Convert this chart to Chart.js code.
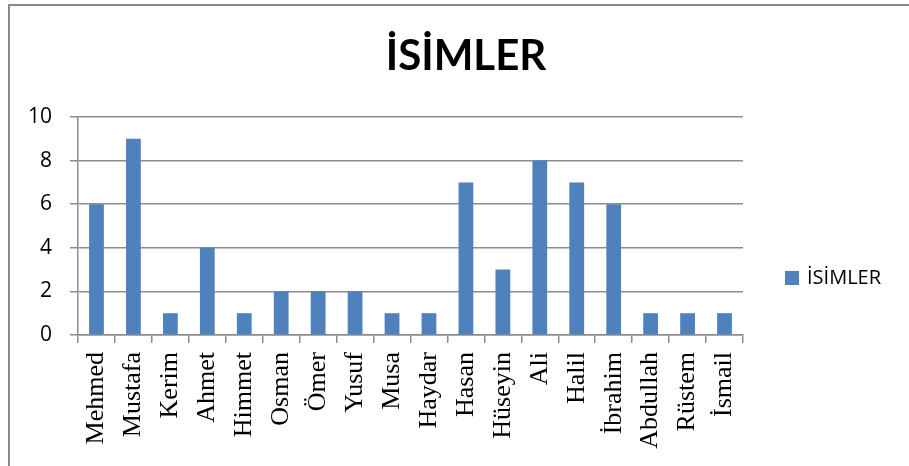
<!DOCTYPE html>
<html>
<head>
<meta charset="utf-8">
<script src="https://cdn.jsdelivr.net/npm/chart.js@4"></script>
<style>
  html, body { margin: 0; padding: 0; overflow: hidden; background: #fff; }
  #frame { position: absolute; left: 8px; top: 4px; width: 1000px; height: 1000px; border: 2px solid #8a8a8a; }
  #wrap { position: absolute; left: 0; top: 0; width: 909px; height: 466px; }
</style>
</head>
<body>
<div id="frame"></div>
<div id="wrap"><canvas id="chart" width="909" height="466"></canvas></div>
<script>
// Veriler
const names = ['Mehmed', 'Mustafa', 'Kerim', 'Ahmet', 'Himmet', 'Osman', 'Ömer', 'Yusuf', 'Musa',
    'Haydar', 'Hasan', 'Hüseyin', 'Ali', 'Halil', 'İbrahim', 'Abdullah', 'Rüstem', 'İsmail'];
const counts = [6, 9, 1, 4, 1, 2, 2, 2, 1, 1, 7, 3, 8, 7, 6, 1, 1, 1];
const seriesName = 'İSİMLER';
const titleText = 'İSİMLER';

const barColor = '#4F81BD';
const gridColor = '#8c8c8c';

// Başlık ve sağdaki gösterge (Excel tarzı, tüm grafiğe göre ortalı)
const excelDecor = {
    id: 'excelDecor',
    afterDraw(chart) {
        const ctx = chart.ctx;
        const ds = chart.data.datasets[0];
        ctx.save();
        // başlık
        ctx.fillStyle = '#000';
        ctx.font = 'bold 42px Lato';
        ctx.textAlign = 'center';
        ctx.textBaseline = 'middle';
        ctx.fillText(titleText, 466, 56);
        // gösterge
        ctx.fillStyle = ds.backgroundColor;
        ctx.fillRect(785, 271, 14, 14);
        ctx.fillStyle = '#000';
        ctx.font = '20px "Open Sans"';
        ctx.textAlign = 'left';
        ctx.fillText(ds.label, 807, 278);
        ctx.restore();
    }
};

const ctx = document.getElementById('chart').getContext('2d');
new Chart(ctx, {
    type: 'bar',
    data: {
        labels: names,
        datasets: [{
            label: seriesName,
            data: counts,
            backgroundColor: barColor,
            categoryPercentage: 1,
            barPercentage: 0.4
        }]
    },
    options: {
        responsive: false,
        animation: false,
        layout: { padding: { left: 0, right: 166, top: 117, bottom: 0 } },
        plugins: {
            legend: { display: false },
            tooltip: { enabled: false },
            title: { display: false }
        },
        scales: {
            x: {
                afterFit: function(scale) { scale.height = 131; },
                grid: { drawOnChartArea: false, color: gridColor, lineWidth: 1.5, tickLength: 8, offset: true },
                border: { color: gridColor, width: 1.5 },
                ticks: {
                    minRotation: 90,
                    maxRotation: 90,
                    autoSkip: false,
                    padding: 9,
                    color: '#000',
                    font: { family: 'Liberation Serif', size: 26 }
                }
            },
            y: {
                min: 0,
                max: 10,
                afterFit: function(scale) { scale.width = 78; },
                grid: { color: gridColor, lineWidth: 1.5, tickLength: 8 },
                border: { color: gridColor, width: 1.5 },
                ticks: {
                    stepSize: 2,
                    padding: 18,
                    color: '#000',
                    font: { family: 'Open Sans', size: 21 }
                }
            }
        }
    },
    plugins: [excelDecor]
});
</script>
</body>
</html>
